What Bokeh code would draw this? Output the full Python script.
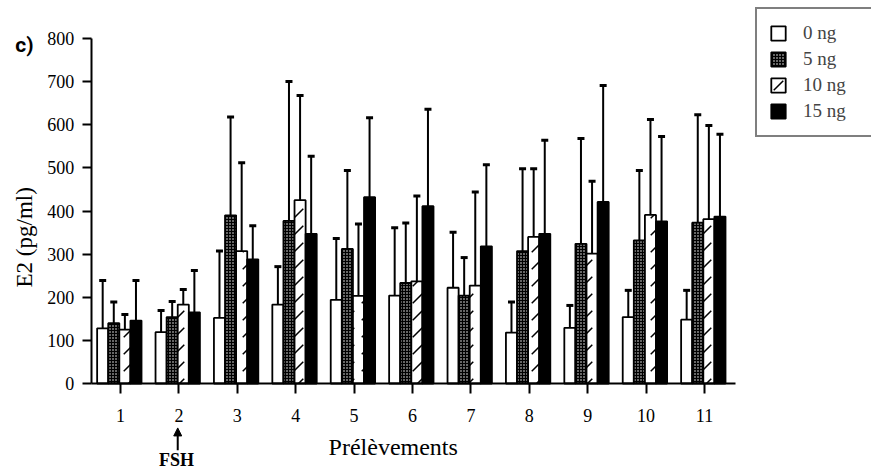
import math
from bokeh.plotting import figure
from bokeh.models import (Range1d, FixedTicker, Legend, LegendItem, Label,
                          Arrow, NormalHead)
from bokeh.embed import file_html
from bokeh.resources import INLINE

# ---------------- data ----------------
samples = [1, 2, 3, 4, 5, 6, 7, 8, 9, 10, 11]
tick_labels = ["1", "2", "3", "4", "5", "6", "7", "8", "9", "10", "11"]
series_names = ["0 ng", "5 ng", "10 ng", "15 ng"]

mean_0ng = [128, 119, 152, 183, 194, 204, 222, 118, 129, 154, 148]
sd_0ng = [111, 50, 155, 88, 142, 157, 129, 71, 52, 62, 68]

mean_5ng = [140, 154, 390, 377, 312, 233, 204, 307, 324, 332, 373]
sd_5ng = [49, 36, 228, 323, 182, 139, 88, 191, 244, 162, 250]

mean_10ng = [125, 183, 307, 425, 203, 237, 227, 340, 301, 391, 381]
sd_10ng = [35, 35, 205, 243, 167, 198, 217, 158, 168, 221, 217]

mean_15ng = [146, 165, 288, 347, 432, 411, 318, 347, 421, 376, 387]
sd_15ng = [93, 97, 78, 180, 184, 225, 189, 217, 270, 197, 191]

y_ticks = [0, 100, 200, 300, 400, 500, 600, 700, 800]

# ---------------- figure ----------------
SERIF = "Liberation Serif"
# ranges chosen so that the frame fills the whole canvas and the axes sit
# where the original axes are
p = figure(width=871, height=469,
           x_range=Range1d(-1.0548, 13.860), y_range=Range1d(-199.4, 888.1),
           output_backend="svg", toolbar_location=None, title_location=None,
           min_border=0)
p.grid.visible = False
p.outline_line_color = None
p.background_fill_color = "white"

for ax in (p.xaxis[0], p.yaxis[0]):
    ax.axis_line_width = 2
    ax.axis_line_color = "black"
    ax.major_tick_line_width = 2
    ax.major_tick_line_color = "black"
    ax.major_tick_in = 0
    ax.minor_tick_in = 0
    ax.minor_tick_out = 0
    ax.major_label_text_font = SERIF
    ax.major_label_text_font_size = "18px"
    ax.major_label_text_color = "black"

p.yaxis.fixed_location = 0.5
p.yaxis.bounds = (0, 800)
p.yaxis.ticker = FixedTicker(ticks=y_ticks)
p.yaxis.major_tick_out = 9
p.yaxis.major_label_standoff = 8

p.xaxis.fixed_location = 0
p.xaxis.bounds = (0.5, 11.53)
p.xaxis.ticker = FixedTicker(ticks=samples)
p.xaxis.major_label_overrides = {s: t for s, t in zip(samples, tick_labels)}
p.xaxis.major_tick_out = 10
p.xaxis.major_label_standoff = 15

bar_w = 0.19
offsets = [-1.5 * bar_w, -0.5 * bar_w, 0.5 * bar_w, 1.5 * bar_w]
shift = -0.02

styles = [
    dict(fill_color="white"),
    dict(fill_color="black", hatch_pattern="dot", hatch_color="white",
         hatch_scale=3, hatch_weight=1.5),
    dict(fill_color="white", hatch_pattern="right_diagonal_dash",
         hatch_color="black", hatch_scale=17, hatch_weight=1.5),
    dict(fill_color="black"),
]

means = [mean_0ng, mean_5ng, mean_10ng, mean_15ng]
sds = [sd_0ng, sd_5ng, sd_10ng, sd_15ng]

items = []
for name, m, s, off, st in zip(series_names, means, sds, offsets, styles):
    xs = [c + off + shift for c in samples]
    upper = [a + b for a, b in zip(m, s)]
    p.segment(x0=xs, y0=m, x1=xs, y1=upper, line_color="black", line_width=2)
    p.scatter(x=xs, y=upper, marker="dash", size=7, line_width=3,
              line_color="black")
    r = p.vbar(x=xs, top=m, bottom=0, width=bar_w, line_color="black",
               line_width=1.8, **st)
    items.append(LegendItem(label=name, renderers=[r]))

legend = Legend(items=items, location=(755, 332),
                border_line_color="black", border_line_width=2,
                padding=12, spacing=2, label_height=24,
                glyph_width=18, glyph_height=18, label_standoff=16,
                label_width=60,
                label_text_font=SERIF, label_text_font_size="19px",
                background_fill_color="white", background_fill_alpha=1)
p.add_layout(legend)

# ---------------- texts ----------------
p.add_layout(Label(x=5.67, y=-148, text="Prélèvements", text_align="center",
                   text_baseline="middle", text_font=SERIF,
                   text_font_size="24px", text_color="black"))
p.add_layout(Label(x=-0.644, y=339, text="E2 (pg/ml)", angle=math.pi / 2,
                   text_align="center", text_baseline="middle",
                   text_font=SERIF, text_font_size="23px", text_color="black"))
p.add_layout(Label(x=1.96, y=-178, text="FSH", text_align="center",
                   text_baseline="middle", text_font=SERIF,
                   text_font_style="bold", text_font_size="18px",
                   text_color="black"))
p.add_layout(Label(x=-0.644, y=786, text="c)", text_align="center",
                   text_baseline="middle", text_font="Roboto",
                   text_font_style="bold", text_font_size="21px",
                   text_color="black"))
p.add_layout(Arrow(x_start=1.98, y_start=-155, x_end=1.98, y_end=-103,
                   line_width=2, line_color="black",
                   end=NormalHead(size=8, fill_color="black",
                                  line_color="black")))

open("out.html", "w").write(file_html(p, INLINE))
